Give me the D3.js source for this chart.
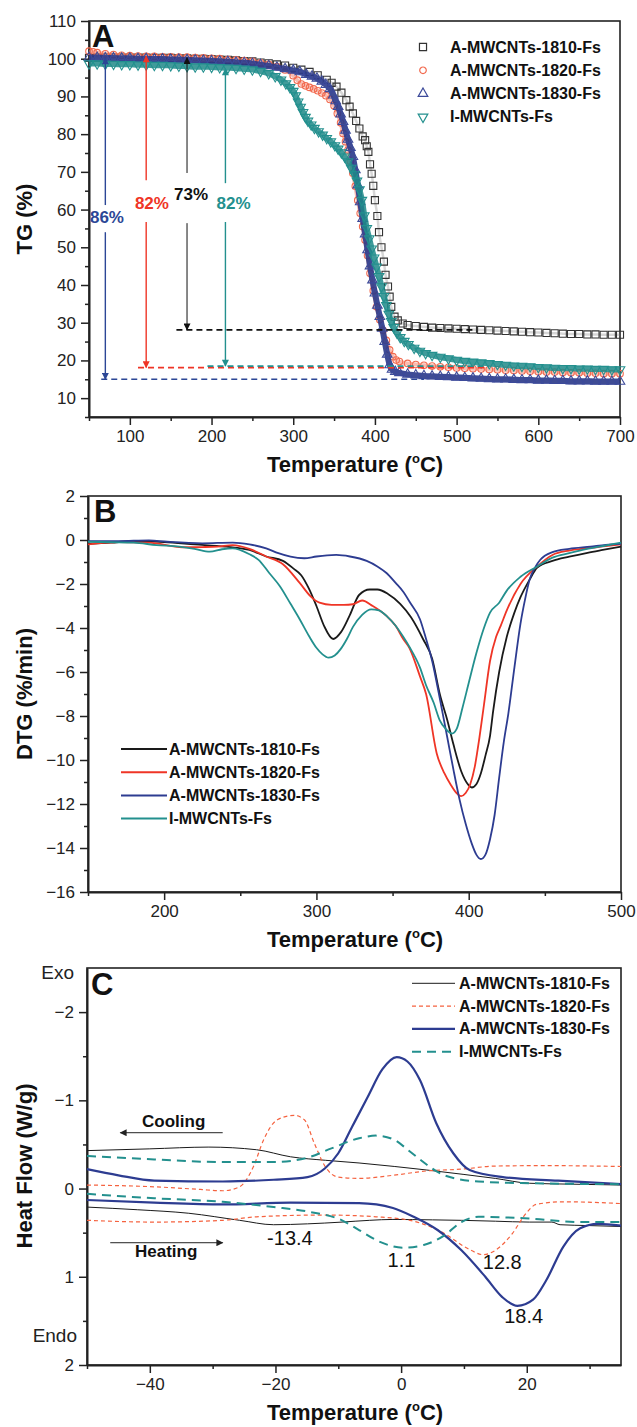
<!DOCTYPE html>
<html>
<head>
<meta charset="utf-8">
<script src="https://cdn.jsdelivr.net/npm/d3@7"></script>
<style>
  body { margin: 0; background: #fff; }
  text { font-family: "Liberation Sans", Arial, sans-serif; }
</style>
</head>
<body>
<svg id="fig"></svg>
<script>
// ---------- data ----------
const seriesNames = ["A-MWCNTs-1810-Fs", "A-MWCNTs-1820-Fs", "A-MWCNTs-1830-Fs", "I-MWCNTs-Fs"];

// panel A : TG (%) vs temperature
const tg1810 = [[50,100.2],[60,100.3],[70,100.3],[80,100.3],[90,100.3],[100,100.3],[110,100.3],[120,100.3],[130,100.2],[140,100.2],[150,100.2],[160,100.1],[170,100.1],[180,100.0],[190,100.0],[200,99.9],[210,99.8],[220,99.7],[230,99.6],[240,99.4],[250,99.3],[260,99.0],[270,98.8],[280,98.5],[290,98.2],[300,97.6],[310,97.1],[320,96.5],[330,95.6],[341,94.4],[347,93.6],[353,92.6],[359,91.0],[365,89.0],[369,87.3],[373,85.5],[377,83.5],[381,81.5],[385,79.4],[388,78.4],[390,76.8],[392,75.3],[394,72.0],[396,69.5],[398,66.3],[400,62.5],[403,58.3],[405,54.0],[408,50.0],[411,46.2],[413,42.7],[416,39.6],[418,36.9],[420,34.2],[424,31.6],[428,30.6],[434,29.8],[440,29.4],[450,29.1],[460,28.9],[470,28.7],[480,28.6],[490,28.5],[500,28.4],[510,28.3],[520,28.2],[530,28.1],[540,28.0],[550,27.9],[560,27.8],[570,27.7],[580,27.6],[590,27.5],[600,27.4],[610,27.3],[620,27.2],[630,27.1],[640,27.0],[650,27.0],[660,26.9],[670,26.9],[680,26.8],[690,26.8],[700,26.8]];
const tg1820 = [[50,102.0],[55,101.8],[60,101.6],[70,101.3],[80,101.1],[90,100.9],[100,100.8],[110,100.7],[120,100.6],[130,100.6],[140,100.5],[150,100.5],[160,100.4],[170,100.4],[180,100.3],[190,100.2],[200,100.1],[210,100.0],[220,99.8],[230,99.7],[240,99.5],[250,99.3],[260,98.9],[270,98.5],[280,97.9],[290,97.0],[300,95.5],[305,94.3],[310,93.3],[315,92.8],[320,92.4],[325,92.0],[330,91.5],[335,90.9],[340,90.2],[345,89.2],[350,87.5],[354,85.5],[358,83.0],[361,80.2],[364,78.0],[367,75.8],[370,72.8],[373,69.6],[376,66.2],[379,62.5],[382,59.0],[385,55.5],[388,51.9],[391,47.8],[394,43.1],[398,38.5],[402,34.2],[406,30.8],[410,28.0],[414,25.3],[418,22.8],[422,21.0],[426,20.1],[430,19.7],[440,19.2],[450,18.9],[460,18.7],[470,18.5],[480,18.3],[490,18.2],[500,18.0],[510,17.9],[520,17.8],[530,17.7],[540,17.6],[550,17.5],[560,17.4],[570,17.3],[580,17.2],[590,17.1],[600,17.0],[610,16.9],[620,16.9],[630,16.8],[640,16.7],[650,16.7],[660,16.6],[670,16.6],[680,16.5],[690,16.5],[700,16.5]];
const tg1830 = [[50,100.3],[60,100.3],[70,100.2],[80,100.2],[90,100.1],[100,100.1],[110,100.0],[120,100.0],[130,99.9],[140,99.9],[150,99.8],[160,99.8],[170,99.7],[180,99.6],[190,99.5],[200,99.4],[210,99.3],[220,99.2],[230,99.0],[240,98.9],[250,98.7],[260,98.4],[270,98.1],[280,97.7],[290,97.3],[300,96.9],[308,96.5],[316,95.8],[323,95.3],[329,94.8],[335,94.0],[340,93.1],[345,92.0],[349,90.3],[352,88.8],[355,87.3],[358,85.3],[361,83.3],[364,81.0],[367,78.6],[370,76.4],[373,74.0],[376,70.5],[379,66.5],[382,62.0],[385,57.6],[388,53.5],[391,49.3],[394,45.0],[397,41.3],[400,37.8],[403,34.6],[406,31.6],[409,28.5],[412,25.0],[415,21.6],[418,18.8],[421,17.6],[425,17.0],[430,16.7],[440,16.3],[450,16.1],[460,15.9],[470,15.8],[480,15.7],[490,15.6],[500,15.5],[510,15.4],[520,15.3],[530,15.2],[540,15.1],[550,15.0],[560,15.0],[570,14.9],[580,14.8],[590,14.8],[600,14.7],[610,14.7],[620,14.6],[630,14.6],[640,14.5],[650,14.5],[660,14.5],[670,14.4],[680,14.4],[690,14.4],[700,14.4]];
const tgI = [[50,98.7],[60,98.7],[70,98.6],[80,98.6],[90,98.5],[100,98.5],[110,98.4],[120,98.4],[130,98.3],[140,98.3],[150,98.2],[160,98.1],[170,98.0],[180,97.9],[190,97.9],[200,97.8],[210,97.7],[220,97.6],[230,97.5],[240,97.3],[250,97.1],[260,96.7],[270,96.1],[278,95.3],[285,94.4],[291,93.4],[296,92.4],[300,91.4],[303,90.2],[306,88.6],[309,87.2],[312,85.8],[315,84.5],[318,83.5],[322,82.5],[326,81.6],[331,80.7],[336,79.8],[341,78.9],[346,78.0],[351,77.0],[355,76.1],[359,75.1],[363,74.0],[367,72.7],[371,71.0],[375,69.3],[378,67.6],[381,65.3],[384,62.5],[387,58.4],[390,55.0],[393,52.3],[396,49.6],[399,47.2],[402,44.8],[405,42.3],[408,39.6],[411,37.0],[414,34.6],[417,32.3],[420,30.4],[423,28.8],[427,27.3],[431,26.1],[436,25.1],[441,24.3],[448,23.3],[455,22.5],[462,21.9],[470,21.4],[480,20.9],[490,20.5],[500,20.1],[510,19.8],[520,19.6],[530,19.4],[540,19.2],[550,19.0],[560,18.8],[570,18.6],[580,18.5],[590,18.4],[600,18.2],[610,18.1],[620,18.0],[630,17.9],[640,17.9],[650,17.8],[660,17.8],[670,17.7],[680,17.7],[690,17.6],[700,17.6]];

// residue arrows in panel A
const arrowT      = [70, 120, 170, 217];
const arrowTop    = [100.2, 100.7, 100.3, 97.3];
const arrowBottom = [15.0, 18.1, 28.1, 18.5];
const gapTop      = [61.2, 67.8, 69.7, 67.0];
const gapBottom   = [54.0, 56.7, 56.4, 56.7];
const arrowText   = ["86%", "82%", "73%", "82%"];
const textT       = [72, 127, 175, 227];
const textTG      = [57.8, 61.7, 63.9, 61.7];
const dashFrom    = [65, 110, 157, 195];
const dashTo      = [460, 534, 520, 540];
const arrowOrder  = [2, 1, 0, 3]; // which series each arrow belongs to

// panel B : DTG (%/min)
const dtg1810 = [[150,-0.18],[165,-0.12],[180,-0.05],[200,-0.1],[220,-0.2],[240,-0.3],[250,-0.38],[256,-0.45],[267,-0.75],[278,-0.95],[285,-1.3],[290,-1.6],[295,-2.2],[300,-3.0],[305,-3.9],[311,-4.5],[316,-4.2],[322,-3.4],[328,-2.5],[335,-2.25],[340,-2.25],[347,-2.45],[355,-2.9],[362,-3.5],[370,-4.5],[376,-5.4],[381,-7.0],[386,-8.2],[390,-9.3],[395,-10.5],[400,-11.15],[402,-11.25],[405,-11.1],[408,-10.6],[411,-9.8],[414,-8.9],[416,-7.8],[420,-6.0],[425,-4.4],[430,-3.3],[434,-2.6],[440,-1.8],[445,-1.25],[455,-0.95],[466,-0.76],[478,-0.58],[488,-0.45],[500,-0.3]];
const dtg1820 = [[150,-0.2],[170,-0.1],[190,-0.12],[212,-0.33],[225,-0.32],[235,-0.3],[245,-0.23],[256,-0.4],[267,-0.75],[278,-1.1],[289,-1.95],[296,-2.55],[302,-2.85],[310,-2.95],[318,-2.95],[324,-2.92],[330,-2.75],[337,-3.0],[346,-3.45],[352,-3.9],[357,-4.5],[361,-4.9],[368,-6.2],[372,-7.0],[379,-9.7],[384,-10.6],[388,-11.1],[392,-11.5],[395,-11.64],[398,-11.5],[401,-11.1],[404,-10.3],[407,-9.0],[410,-7.5],[414,-5.5],[418,-4.4],[421,-3.9],[425,-3.2],[434,-2.0],[445,-1.2],[455,-0.68],[466,-0.48],[477,-0.38],[490,-0.28],[500,-0.2]];
const dtg1830 = [[150,-0.05],[170,-0.05],[190,-0.02],[202,-0.08],[225,-0.15],[245,-0.12],[256,-0.2],[267,-0.38],[275,-0.6],[283,-0.76],[292,-0.83],[300,-0.75],[307,-0.7],[313,-0.68],[322,-0.75],[333,-0.95],[340,-1.2],[346,-1.5],[352,-1.95],[357,-2.35],[362,-2.9],[368,-3.6],[372,-4.5],[376,-5.5],[381,-7.2],[386,-9.0],[390,-10.45],[394,-11.8],[398,-12.9],[402,-13.8],[405,-14.3],[408,-14.5],[411,-14.3],[414,-13.6],[417,-12.5],[420,-10.8],[423,-9.2],[426,-7.9],[430,-5.8],[434,-3.8],[437,-2.7],[440,-1.8],[444,-1.2],[447,-0.9],[455,-0.55],[466,-0.4],[480,-0.3],[490,-0.22],[500,-0.18]];
const dtgI = [[150,-0.08],[165,-0.1],[180,-0.12],[195,-0.23],[210,-0.3],[220,-0.4],[230,-0.53],[238,-0.42],[245,-0.38],[256,-0.65],[262,-0.9],[269,-1.5],[276,-2.1],[283,-2.9],[289,-3.6],[295,-4.35],[300,-4.9],[304,-5.2],[308,-5.35],[312,-5.25],[316,-4.95],[320,-4.5],[324,-3.95],[330,-3.4],[336,-3.15],[341,-3.2],[346,-3.45],[352,-3.9],[357,-4.4],[361,-4.85],[368,-5.8],[372,-6.6],[377,-7.4],[381,-8.2],[385,-8.6],[389,-8.8],[392,-8.6],[396,-7.6],[400,-6.5],[405,-5.15],[410,-4.0],[414,-3.3],[420,-2.85],[425,-2.3],[434,-1.67],[445,-1.2],[455,-0.8],[466,-0.6],[477,-0.42],[490,-0.25],[500,-0.12]];

// panel C : DSC heat flow (W/g), cooling and heating runs
const coolBlack = [[-50,-0.43],[-40,-0.45],[-30.6,-0.47],[-23,-0.44],[-17.6,-0.36],[-12,-0.32],[-6.7,-0.29],[-1,-0.25],[4.1,-0.21],[10,-0.16],[15,-0.115],[20.4,-0.06],[27,-0.05],[35,-0.04]];
const heatBlack = [[-50,0.21],[-42,0.24],[-33.8,0.28],[-25.7,0.36],[-20.3,0.41],[-14.9,0.40],[-9.4,0.38],[-5,0.36],[-1.3,0.35],[5,0.355],[9.6,0.36],[15,0.37],[20.4,0.38],[24,0.38],[25.3,0.41],[30,0.42],[35,0.43]];
const coolRed = [[-50,-0.04],[-39.3,-0.02],[-32,0.01],[-28.4,0.025],[-25.7,-0.02],[-23.5,-0.25],[-21.9,-0.55],[-19.7,-0.78],[-17,-0.83],[-15.4,-0.78],[-13.8,-0.51],[-12.1,-0.25],[-10,-0.13],[-6.7,-0.115],[-1.3,-0.15],[4.1,-0.2],[9.6,-0.22],[15,-0.255],[23,-0.26],[35,-0.25]];
const heatRed = [[-50,0.36],[-39.3,0.38],[-28.4,0.36],[-23,0.32],[-12.1,0.30],[-4,0.32],[1.4,0.36],[6.9,0.51],[10.6,0.68],[13.1,0.75],[15,0.70],[17.7,0.51],[19.9,0.28],[21.5,0.18],[25.8,0.15],[35,0.17]];
const coolBlue = [[-50,-0.22],[-45,-0.15],[-39.3,-0.09],[-28.4,-0.08],[-20.3,-0.1],[-14.9,-0.13],[-12.1,-0.23],[-10,-0.4],[-7.8,-0.7],[-5.3,-1.04],[-3,-1.35],[-0.7,-1.49],[1,-1.44],[3,-1.23],[5.6,-0.74],[8.3,-0.4],[10.9,-0.21],[16.2,-0.13],[25,-0.09],[35,-0.05]];
const heatBlue = [[-50,0.13],[-39.3,0.16],[-28.4,0.18],[-17.6,0.16],[-6.7,0.165],[-1.3,0.22],[2,0.32],[5.8,0.47],[9.6,0.70],[13.4,1.0],[16.1,1.23],[18.5,1.33],[21,1.26],[23.1,1.04],[25.8,0.66],[28.5,0.45],[31.3,0.40],[35,0.42]];
const coolTeal = [[-50,-0.37],[-39.3,-0.33],[-28.4,-0.30],[-20.3,-0.30],[-14.9,-0.35],[-11.1,-0.455],[-6.7,-0.57],[-4,-0.6],[-1.3,-0.56],[1.4,-0.42],[4.1,-0.27],[6.9,-0.15],[12.3,-0.08],[20.4,-0.06],[35,-0.05]];
const heatTeal = [[-50,0.06],[-39.3,0.11],[-28.4,0.15],[-20.3,0.21],[-14.9,0.26],[-9.4,0.36],[-6.7,0.47],[-3.5,0.60],[0.3,0.67],[3.6,0.64],[6.9,0.53],[9.6,0.38],[12.3,0.32],[20.4,0.34],[28.5,0.38],[35,0.38]];

// peak labels for the heating runs
const peakText = ["-13.4", "1.1", "12.8", "18.4"];
const peakT    = [-17.7, 0.06, 16.1, 19.5];
const peakV    = [0.56, 0.81, 0.833, 1.445];

// ---------- setup ----------
const width = 637, height = 1427;
const svg = d3.select("#fig").attr("width", width).attr("height", height);

const black = "#1a1a1a", red = "#ef3526", blue = "#2d3c91", teal = "#23908e";
const markRed = "#f26a4f", markBlue = "#3c4a9a";
const dscRed = "#f5623f";
const fmt = d3.format("~g");

const defs = svg.append("defs");
function arrowMarker(id, color) {
  defs.append("marker")
    .attr("id", id)
    .attr("viewBox", "0 0 10 10")
    .attr("refX", 9).attr("refY", 5)
    .attr("markerUnits", "userSpaceOnUse")
    .attr("markerWidth", 10).attr("markerHeight", 7)
    .attr("orient", "auto")
    .append("path")
    .attr("d", "M0,0 L10,5 L0,10 z")
    .attr("fill", color);
}

function axes(x, y, xMajor, xMinor, yMajor, yMinor) {
  const left = x.range()[0], right = x.range()[1];
  const top = d3.min(y.range()), bottom = d3.max(y.range());

  svg.append("g")
    .attr("transform", `translate(0,${bottom})`)
    .call(d3.axisBottom(x).tickValues(xMinor).tickSize(4).tickFormat(""))
    .call(g => g.select(".domain").remove());
  svg.append("g")
    .attr("transform", `translate(${left},0)`)
    .call(d3.axisLeft(y).tickValues(yMinor).tickSize(4).tickFormat(""))
    .call(g => g.select(".domain").remove());

  svg.append("g")
    .attr("class", "ax")
    .attr("transform", `translate(0,${bottom})`)
    .call(d3.axisBottom(x).tickValues(xMajor).tickSize(8).tickPadding(5).tickSizeOuter(0).tickFormat(fmt));
  svg.append("g")
    .attr("class", "ax")
    .attr("transform", `translate(${left},0)`)
    .call(d3.axisLeft(y).tickValues(yMajor).tickSize(8).tickPadding(5).tickSizeOuter(0).tickFormat(fmt));

  svg.append("rect")
    .attr("x", left).attr("y", top)
    .attr("width", right - left).attr("height", bottom - top)
    .attr("fill", "none").attr("stroke", "#222").attr("stroke-width", 1.6);

  svg.selectAll("g.tick line").attr("stroke", "#222").attr("stroke-width", 1.5);
  svg.selectAll(".ax .domain").attr("stroke", "#222").attr("stroke-width", 2);
  svg.selectAll(".ax text").attr("font-size", 17).attr("fill", "#222")
    .attr("font-family", "Liberation Sans, Arial, sans-serif");
}

function xTitle(cx, yPos) {
  const t = svg.append("text")
    .attr("x", cx).attr("y", yPos)
    .attr("text-anchor", "middle")
    .attr("font-size", 22).attr("font-weight", "bold").attr("fill", "#111");
  t.append("tspan").text("Temperature (");
  t.append("tspan").text("o").attr("font-size", 13).attr("dy", -9);
  t.append("tspan").text("C)").attr("dy", 9);
}

function yTitle(label, cy) {
  svg.append("text")
    .attr("transform", `translate(32,${cy}) rotate(-90)`)
    .attr("text-anchor", "middle")
    .attr("font-size", 22).attr("font-weight", "bold").attr("fill", "#111")
    .text(label);
}

function panelLetter(letter, x, y) {
  svg.append("text")
    .attr("x", x).attr("y", y)
    .attr("font-size", 31).attr("font-weight", "bold").attr("fill", "#111")
    .text(letter);
}

// ---------- panel A : TG ----------
let xA = d3.scaleLinear().domain([50, 700]).range([89, 620]);
let yA = d3.scaleLinear().domain([5, 110]).range([417, 21]);

axes(xA, yA,
  d3.range(100, 701, 100), d3.range(50, 701, 100),
  d3.range(10, 111, 10), d3.range(5, 110, 10));

const tgSets = [tg1810, tg1820, tg1830, tgI];
const tgColors = ["#333", markRed, markBlue, teal];
const bandColors = ["#777", markRed, "#2a3888", "#1f8a88"];
const bandOpacity = [0.3, 0.45, 0.9, 0.85];
const bandWidth = [2.5, 4, 6, 6];
const symbols = [d3.symbolSquare, d3.symbolCircle, d3.symbolTriangle, d3.symbolTriangle];
const symSize = [50, 34, 40, 40];
const symRot = [0, 0, 0, 180];

let bandLine = d3.line()
  .x(d => xA(d[0]))
  .y(d => yA(d[1]))
  .curve(d3.curveMonotoneX);

let gA = svg.append("g");
tgSets.forEach((set, i) => {
  gA.append("path")
    .datum(set)
    .attr("fill", "none")
    .attr("stroke", bandColors[i])
    .attr("stroke-opacity", bandOpacity[i])
    .attr("stroke-width", bandWidth[i])
    .attr("d", bandLine);
  gA.append("g")
    .selectAll("path")
    .data(set)
    .join("path")
    .attr("transform", d => `translate(${xA(d[0])},${yA(d[1])}) rotate(${symRot[i]})`)
    .attr("d", d3.symbol(symbols[i], symSize[i]))
    .attr("fill", "none")
    .attr("stroke", tgColors[i])
    .attr("stroke-width", 1.1);
});

// residue lines and arrows
const arrowColors = ["#111", red, "#2c4796", teal];
arrowColors.forEach((c, i) => arrowMarker("arr" + i, c));
arrowOrder.forEach((s, k) => {
  const c = arrowColors[s];
  svg.append("line")
    .attr("x1", xA(dashFrom[k])).attr("x2", xA(dashTo[k]))
    .attr("y1", yA(arrowBottom[k])).attr("y2", yA(arrowBottom[k]))
    .attr("stroke", c).attr("stroke-width", 1.6)
    .attr("stroke-dasharray", "6,4");
  svg.append("line")
    .attr("x1", xA(arrowT[k])).attr("x2", xA(arrowT[k]))
    .attr("y1", yA(gapTop[k])).attr("y2", yA(arrowTop[k]))
    .attr("stroke", c).attr("stroke-width", s === 0 ? 1 : 1.4)
    .attr("marker-end", `url(#arr${s})`);
  svg.append("line")
    .attr("x1", xA(arrowT[k])).attr("x2", xA(arrowT[k]))
    .attr("y1", yA(gapBottom[k])).attr("y2", yA(arrowBottom[k]))
    .attr("stroke", c).attr("stroke-width", s === 0 ? 1 : 1.4)
    .attr("marker-end", `url(#arr${s})`);
  svg.append("text")
    .attr("x", xA(textT[k])).attr("y", yA(textTG[k]))
    .attr("text-anchor", "middle").attr("dominant-baseline", "central")
    .attr("font-size", 17).attr("font-weight", "bold")
    .attr("fill", s === 2 ? "#2c4796" : c)
    .text(arrowText[k]);
});

// legend A
seriesNames.forEach((name, i) => {
  const yy = 47 + i * 23.3;
  svg.append("path")
    .attr("transform", `translate(423,${yy}) rotate(${symRot[i]})`)
    .attr("d", d3.symbol(symbols[i], symSize[i]))
    .attr("fill", "none").attr("stroke", tgColors[i]).attr("stroke-width", 1.2);
  svg.append("text")
    .attr("x", 450).attr("y", yy)
    .attr("dominant-baseline", "central")
    .attr("font-size", 16).attr("font-weight", "bold").attr("fill", "#111")
    .text(name);
});

panelLetter("A", 92, 47);
xTitle(355, 472);
yTitle("TG (%)", 219);

// ---------- panel B : DTG ----------
let xB = d3.scaleLinear().domain([150, 500]).range([88, 621]);
let yB = d3.scaleLinear().domain([-16, 2]).range([892, 496]);

axes(xB, yB,
  d3.range(200, 501, 100), d3.range(150, 501, 100),
  d3.range(-16, 3, 2), d3.range(-15, 2, 2));

const dtgSets = [dtg1810, dtg1820, dtg1830, dtgI];
const lineColors = [black, red, blue, teal];

let lineB = d3.line()
  .x(d => xB(d[0]))
  .y(d => yB(d[1]))
  .curve(d3.curveMonotoneX);

dtgSets.forEach((set, i) => {
  svg.append("path")
    .datum(set)
    .attr("fill", "none")
    .attr("stroke", lineColors[i])
    .attr("stroke-width", 1.8)
    .attr("d", lineB);
});

seriesNames.forEach((name, i) => {
  const yy = 749 + i * 23.2;
  svg.append("line")
    .attr("x1", 121).attr("x2", 167).attr("y1", yy).attr("y2", yy)
    .attr("stroke", lineColors[i]).attr("stroke-width", 2);
  svg.append("text")
    .attr("x", 169).attr("y", yy)
    .attr("dominant-baseline", "central")
    .attr("font-size", 16).attr("font-weight", "bold").attr("fill", "#111")
    .text(name);
});

panelLetter("B", 94, 522);
xTitle(355, 947);
yTitle("DTG (%/min)", 694);

// ---------- panel C : DSC ----------
let xC = d3.scaleLinear().domain([-50, 35]).range([87, 621]);
let yC = d3.scaleLinear().domain([-2.5, 2]).range([968, 1365]);

axes(xC, yC,
  [-40, -20, 0, 20], [-50, -30, -10, 10, 30],
  [-2, -1, 0, 1, 2], [-1.5, -0.5, 0.5, 1.5]);

svg.append("text").attr("x", 74).attr("y", 972)
  .attr("text-anchor", "end").attr("dominant-baseline", "central")
  .attr("font-size", 19).attr("fill", "#222").text("Exo");
svg.append("text").attr("x", 77).attr("y", 1335)
  .attr("text-anchor", "end").attr("dominant-baseline", "central")
  .attr("font-size", 19).attr("fill", "#222").text("Endo");

const dscRuns = [[coolBlack, heatBlack], [coolRed, heatRed], [coolBlue, heatBlue], [coolTeal, heatTeal]];
const dscColors = [black, dscRed, blue, teal];
const dscWidth = [1, 1.2, 2.2, 2];
const dscDash = [null, "4,3", null, "9,6"];

let lineC = d3.line()
  .x(d => xC(d[0]))
  .y(d => yC(d[1]))
  .curve(d3.curveMonotoneX);

dscRuns.forEach((runs, i) => {
  runs.forEach(run => {
    svg.append("path")
      .datum(run)
      .attr("fill", "none")
      .attr("stroke", dscColors[i])
      .attr("stroke-width", dscWidth[i])
      .attr("stroke-dasharray", dscDash[i])
      .attr("d", lineC);
  });
});

seriesNames.forEach((name, i) => {
  const yy = 983.3 + i * 22.8;
  svg.append("line")
    .attr("x1", 412).attr("x2", 455).attr("y1", yy).attr("y2", yy)
    .attr("stroke", dscColors[i]).attr("stroke-width", dscWidth[i])
    .attr("stroke-dasharray", dscDash[i]);
  svg.append("text")
    .attr("x", 459).attr("y", yy)
    .attr("dominant-baseline", "central")
    .attr("font-size", 16).attr("font-weight", "bold").attr("fill", "#111")
    .text(name);
});

// cooling / heating arrows
arrowMarker("arrC", "#222");
svg.append("line")
  .attr("x1", xC(-28.4)).attr("x2", xC(-44.7))
  .attr("y1", yC(-0.633)).attr("y2", yC(-0.633))
  .attr("stroke", "#222").attr("stroke-width", 1)
  .attr("marker-end", "url(#arrC)");
svg.append("text")
  .attr("x", xC(-36.2)).attr("y", yC(-0.698))
  .attr("text-anchor", "middle")
  .attr("font-size", 17).attr("font-weight", "bold").attr("fill", "#111")
  .text("Cooling");
svg.append("line")
  .attr("x1", xC(-46.3)).attr("x2", xC(-28.4))
  .attr("y1", yC(0.614)).attr("y2", yC(0.614))
  .attr("stroke", "#222").attr("stroke-width", 1)
  .attr("marker-end", "url(#arrC)");
svg.append("text")
  .attr("x", xC(-37.4)).attr("y", yC(0.775))
  .attr("text-anchor", "middle")
  .attr("font-size", 17).attr("font-weight", "bold").attr("fill", "#111")
  .text("Heating");

peakText.forEach((t, i) => {
  svg.append("text")
    .attr("x", xC(peakT[i])).attr("y", yC(peakV[i]))
    .attr("text-anchor", "middle").attr("dominant-baseline", "central")
    .attr("font-size", 20).attr("fill", "#111")
    .text(t);
});

panelLetter("C", 91, 995);
xTitle(355, 1420);
yTitle("Heat Flow (W/g)", 1166);
</script>
</body>
</html>
